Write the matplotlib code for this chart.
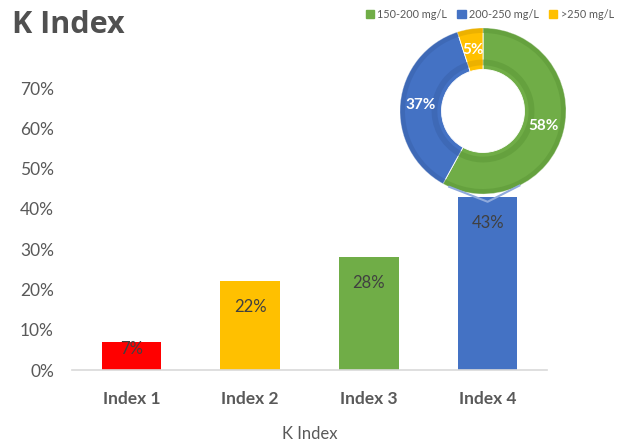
import numpy as np
import matplotlib.pyplot as plt
from matplotlib.lines import Line2D
from matplotlib.ticker import FuncFormatter

plt.rcParams['font.family'] = ['Lato', 'DejaVu Sans']

# bar chart data
categories = ["Index 1", "Index 2", "Index 3", "Index 4"]
values = [0.07, 0.22, 0.28, 0.43]
bar_colors = ["#FF0000", "#FFC000", "#70AD47", "#4472C4"]

# breakdown of Index 4
ring_labels = ["150-200 mg/L", "200-250 mg/L", ">250 mg/L"]
ring_values = [58, 37, 5]
ring_colors = ["#70AD47", "#4472C4", "#FFC000"]
ring_dark = ["#5E9A38", "#3A63AE", "#E0A800"]

text_gray = "#595959"
W, H = 631, 444

fig = plt.figure(figsize=(W / 100, H / 100), dpi=100)
ax = fig.add_axes([72 / W, (H - 370) / H, (547 - 72) / W, (370 - 88) / H])

x = np.arange(len(categories))
bars = ax.bar(x, values, width=0.5, color=bar_colors, zorder=2)
ax.set_xlim(-0.5, len(categories) - 0.5)
ax.set_ylim(0, 0.7)
ax.set_yticks(np.arange(0, 0.71, 0.1))
ax.yaxis.set_major_formatter(FuncFormatter(lambda v, _: f"{v * 100:.0f}%"))
ax.set_xticks(x)
ax.set_xticklabels(categories, fontsize=12.5, fontweight="bold", color=text_gray)
ax.tick_params(axis="y", length=0, labelsize=12.5, labelcolor=text_gray, pad=13)
ax.tick_params(axis="x", length=0, pad=15)
for s in ["top", "right", "left"]:
    ax.spines[s].set_visible(False)
ax.spines["bottom"].set_color("#D9D9D9")
ax.spines["bottom"].set_linewidth(1.2)
ax.set_xlabel("K Index", fontsize=12, color=text_gray, labelpad=14)

# value labels just inside the top of each bar
px_per_unit = (370 - 88) / 0.7
for xi, v in zip(x, values):
    drop = 26 if v * px_per_unit > 60 else 7
    ax.annotate(f"{v * 100:.0f}%", (xi, v), xytext=(0, -drop * 0.72), textcoords="offset points",
                ha="center", va="center", fontsize=12, color="#404040", zorder=3)

# title
fig.text(12 / W, 1 - 25 / H, "K Index", fontsize=22, fontweight="bold",
         family=["Open Sans", "DejaVu Sans"], color="#505050", va="center", ha="left")

# donut for Index 4
cx, cy, r = 483, 111, 83
dax = fig.add_axes([(cx - r) / W, (H - cy - r) / H, 2 * r / W, 2 * r / H])
dax.set_aspect("equal")
dax.axis("off")
wedges, _, autotexts = dax.pie(ring_values, colors=ring_colors, startangle=90,
                               counterclock=False, radius=1.0,
                               wedgeprops=dict(width=0.5, edgecolor="white", linewidth=0.6),
                               autopct="%d%%", pctdistance=0.75,
                               textprops=dict(color="white", fontsize=11, fontweight="bold"))
# bevel shading on the ring edges
dax.pie(ring_values, colors=ring_dark, startangle=90, counterclock=False, radius=0.62,
        wedgeprops=dict(width=0.07, edgecolor="none", alpha=0.6))
dax.pie(ring_values, colors=ring_dark, startangle=90, counterclock=False, radius=1.0,
        wedgeprops=dict(width=0.06, edgecolor="none", alpha=0.6))
for t in autotexts:
    t.set_zorder(5)
dax.set_xlim(-1, 1)
dax.set_ylim(-1, 1)

# connector from ring to top of Index 4 bar
top = ax.transData.transform((x[-1], values[-1]))
pts = []
for ang in (246, 296):
    p = dax.transData.transform((np.cos(np.radians(ang)), np.sin(np.radians(ang))))
    pts.append(p)
fx = [pts[0][0], top[0], pts[1][0]]
fy = [pts[0][1], top[1] - 5, pts[1][1]]
inv = fig.transFigure.inverted()
line_pts = inv.transform(np.column_stack([fx, fy]))
fig.add_artist(Line2D(line_pts[:, 0], line_pts[:, 1], color="#8FAADC", lw=1.5))

# legend
handles = [plt.Rectangle((0, 0), 1, 1, color=c) for c in ring_colors]
fig.legend(handles, ring_labels, ncol=3, loc="center right",
           bbox_to_anchor=(618 / W, 1 - 14 / H), fontsize=7.8, frameon=False,
           handlelength=0.8, handleheight=0.8, handletextpad=0.3, columnspacing=0.9,
           labelcolor=text_gray, borderaxespad=0)

fig.savefig("out.png", dpi=100)
